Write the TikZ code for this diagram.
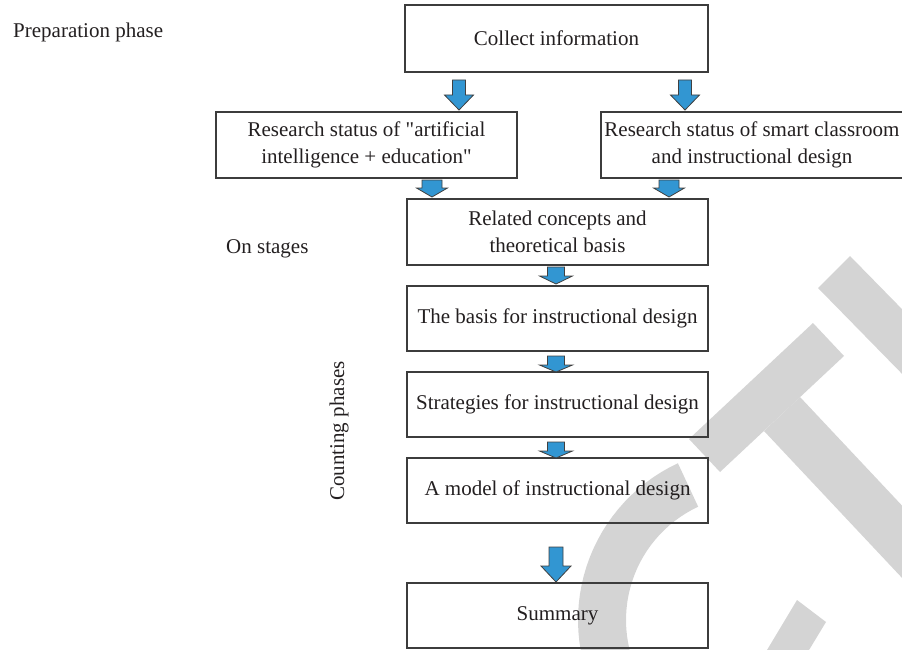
\documentclass[tikz,border=0pt]{standalone}
\usepackage{fontspec}
\setmainfont{Liberation Serif}[Ligatures=TeXOff]
\begin{document}
\begin{tikzpicture}[x=1pt,y=-1pt,
  txt/.style={text=textgray,font=\fontsize{21}{26.7}\selectfont},
  stagebox/.style={draw=linegray,line width=1.2pt,inner sep=0pt,align=center,
    minimum width=301pt,minimum height=66pt,txt},
  blockarr/.style={fill=arrowblue,draw=arrowline,line width=0.8pt,line join=miter},
  wm/.style={fill=wmgray}]
\definecolor{textgray}{HTML}{231F20}
\definecolor{linegray}{HTML}{3C3C3C}
\definecolor{arrowblue}{HTML}{3296D2}
\definecolor{arrowline}{HTML}{404040}
\definecolor{wmgray}{HTML}{D4D4D4}
\useasboundingbox (0,0) rectangle (902,650);
% watermark
\fill[wm] plot[domain=115:300,samples=60] ({751+173*cos(\x)},{620-173*sin(\x)})
  -- plot[domain=300:115,samples=60] ({751+125*cos(\x)},{620-125*sin(\x)}) -- cycle;
\fill[wm] (689,439) -- (813,323) -- (844,356) -- (720,472) -- cycle;
\fill[wm] (800,397) -- (971,579) -- (935,613) -- (764,431) -- cycle;
\fill[wm] (818,288) -- (850,256) -- (990,399) -- (958,431) -- cycle;
\fill[wm] (797,600) -- (826,622) -- (806,655) -- (764,655) -- cycle;
% boxes
\node[stagebox,minimum width=303pt,minimum height=67pt] (collect) at (556.5,38.5) {Collect information};
\node[stagebox] (resai) at (366.5,145) {Research status of "artificial\\intelligence + education"};
\node[stagebox,minimum width=302pt] (ressc) at (752,145) {Research status of smart classroom\\and instructional design};
\node[stagebox] (related) at (557.5,232) {Related concepts and\\theoretical basis};
\node[stagebox,minimum height=65pt] (basis) at (557.5,318.5) {The basis for instructional design};
\node[stagebox,minimum height=65pt] (strat) at (557.5,404.5) {Strategies for instructional design};
\node[stagebox,minimum height=65pt] (model) at (557.5,490.5) {A model of instructional design};
\node[stagebox,minimum height=65pt] (summary) at (557.5,615.5) {Summary};
% labels
\node[txt,anchor=base west,inner sep=0pt] (prep) at (13,38) {Preparation phase};
\node[txt,anchor=base west,inner sep=0pt] (onst) at (226,253) {On stages};
\node[txt,anchor=base,rotate=90,inner sep=0pt] (count) at (344,431) {Counting phases};
% block arrows: centre x, shaft top, head base, tip, half shaft, half head
\newcommand\blockarrow[6]{%
  \draw[blockarr] ({#1-#5},#2) -- ({#1+#5},#2) -- ({#1+#5},#3) -- ({#1+#6},#3)
    -- (#1,#4) -- ({#1-#6},#3) -- ({#1-#5},#3) -- cycle;}
\blockarrow{459}{80}{95}{110}{6.5}{14.5}
\blockarrow{685}{80}{95}{110}{6.5}{14.5}
\blockarrow{432}{180}{188}{197}{10}{15.5}
\blockarrow{669}{180}{188}{197}{10}{15.5}
\blockarrow{556}{267}{276}{284}{8.5}{16.5}
\blockarrow{556}{356}{365}{372}{8.5}{16.5}
\blockarrow{556}{442}{451}{458}{8.5}{16.5}
\blockarrow{556}{547}{566}{582}{7}{15}
\end{tikzpicture}
\end{document}
